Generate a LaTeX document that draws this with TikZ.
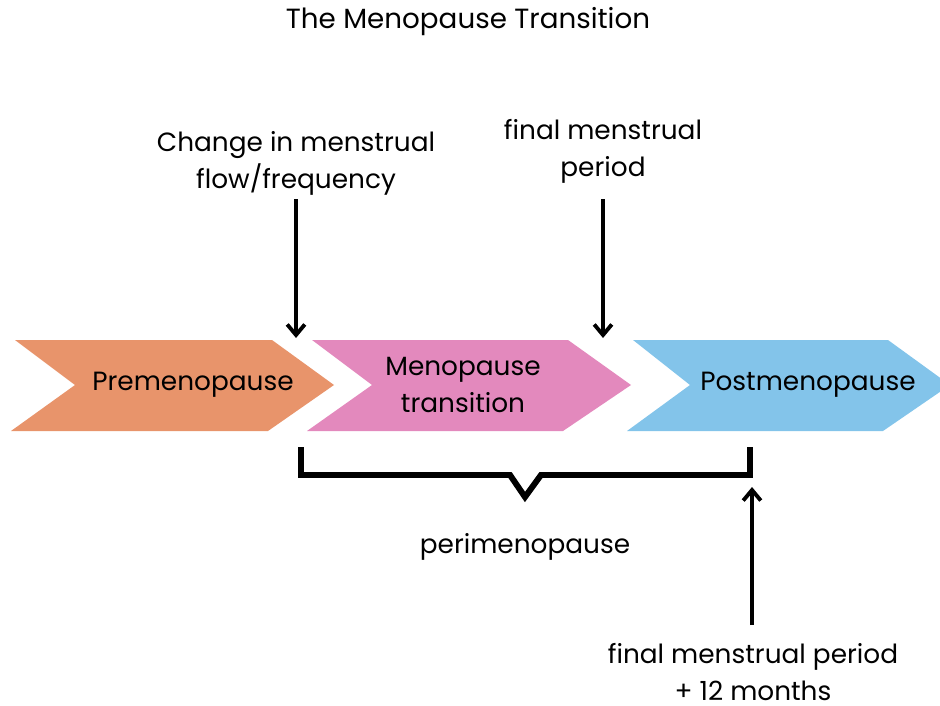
\documentclass[tikz,border=0pt]{standalone}
\usepackage{fontspec}
\setmainfont{Poppins}
\usetikzlibrary{arrows.meta}

\definecolor{preorange}{RGB}{232,148,107}
\definecolor{transpink}{RGB}{227,137,189}
\definecolor{postblue}{RGB}{131,196,234}

\tikzset{
    txt/.style={align=center, inner sep=0pt, font=\fontsize{15}{21}\selectfont},
    pointer/.style={line width=2.2pt, -{Straight Barb[length=6pt,width=10pt,line width=2.2pt]}},
}

\begin{document}
\begin{tikzpicture}[x=0.02cm,y=-0.02cm]
            \useasboundingbox (0,0) rectangle (940,706);

            % chevrons
            \fill[preorange] (15,340) -- (272,340) -- (334,385) -- (268,431)
                -- (11,431) -- (75,385) -- cycle;
            \fill[transpink] (312,340) -- (568,340) -- (631,385) -- (563,431)
                -- (307,431) -- (372,385) -- cycle;
            \fill[postblue] (633,340) -- (888,340) -- (950,385) -- (883,431)
                -- (627,431) -- (690,385) -- cycle;

            \node[txt] (pre) at (193,385) {Premenopause};
            \node[txt] (trans) at (463,385) {Menopause\\transition};
            \node[txt] (post) at (808,385) {Postmenopause};

            \node[txt, font=\fontsize{15.8}{21}\selectfont] (title) at (468,22) {The Menopause Transition};

            % markers above
            \node[txt] (change) at (296,163) {Change in menstrual\\flow/frequency};
            \node[txt] (fmp) at (603,151) {final menstrual\\period};
            \coordinate (changeend) at (296,338);
            \coordinate (fmpend) at (603,338);
            \draw[pointer] (296,199) -- (changeend);
            \draw[pointer] (603,199) -- (fmpend);

            % perimenopause bracket
            \coordinate (bl) at (301,447);
            \coordinate (br) at (750,447);
            \draw[line width=3.4pt, line join=miter] (bl) -- (301,475) -- (510,475)
                -- (525,497) -- (541,475) -- (750,475) -- (br);
            \node[txt] (peri) at (525,547) {perimenopause};

            \node[txt] (fmp12) at (753,672) {final menstrual period\\+ 12 months};
            \coordinate (fmp12end) at (752,487);
            \draw[pointer] (752,625) -- (fmp12end);
\end{tikzpicture}
\end{document}
